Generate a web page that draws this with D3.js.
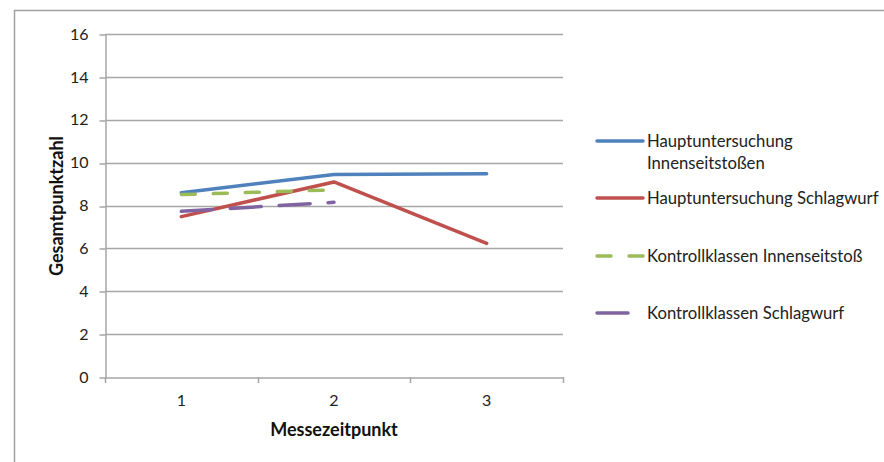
<!DOCTYPE html>
<html>
<head>
<meta charset="utf-8">
<script src="https://cdn.jsdelivr.net/npm/d3@7/dist/d3.min.js"></script>
<style>
  html, body { margin: 0; padding: 0; background: #fff; }
  svg { display: block; font-family: "Lato", "Open Sans", sans-serif; }
</style>
</head>
<body>
<svg id="chart" width="884" height="462"></svg>
<script>
// Messzeitpunkte und Messwerte (Gesamtpunktzahl)
const timepoints = [1, 2, 3];
const yTicks = [0, 2, 4, 6, 8, 10, 12, 14, 16];

const hauptInnenseit = [8.59, 9.45, 9.48];
const hauptSchlag = [7.48, 9.1, 6.23];
const kontrollInnenseit = [8.51, 8.73];
const kontrollSchlag = [7.73, 8.15];

const seriesNames = [
  ["Hauptuntersuchung", "Innenseitstoßen"],
  ["Hauptuntersuchung Schlagwurf"],
  ["Kontrollklassen Innenseitstoß"],
  ["Kontrollklassen Schlagwurf"]
];
const seriesValues = [hauptInnenseit, hauptSchlag, kontrollInnenseit, kontrollSchlag];
const seriesColors = ["#4F81BD", "#C0504D", "#9BBB59", "#8064A2"];
const seriesDash = [null, null, "14,18", "31,18"];

const svg = d3.select("#chart");
const gridColor = "#a6a6a6";

// outer chart frame (runs past the right and bottom edge)
svg.append("path")
  .attr("d", "M14.5,462 V10.5 H884")
  .attr("fill", "none")
  .attr("stroke", "#a0a0a0")
  .attr("stroke-width", 1.5);

const plot = { left: 105, right: 563, top: 34, bottom: 377 };

const x = d3.scaleBand().domain(timepoints).range([plot.left, plot.right]);
const y = d3.scaleLinear().domain([0, 16]).range([plot.bottom, plot.top]);

// horizontal gridlines
svg.append("g")
  .selectAll("line")
  .data(yTicks.filter(t => t > 0))
  .join("line")
  .attr("x1", plot.left)
  .attr("x2", plot.right)
  .attr("y1", d => Math.round(y(d)) + 0.5)
  .attr("y2", d => Math.round(y(d)) + 0.5)
  .attr("stroke", gridColor)
  .attr("stroke-width", 1.5);

// y axis
const yAxis = svg.append("g")
  .attr("transform", `translate(${plot.left + 0.5},0)`)
  .call(d3.axisLeft(y).tickValues(yTicks).tickSizeInner(6).tickSizeOuter(0).tickPadding(11));
yAxis.select(".domain").attr("stroke", gridColor).attr("stroke-width", 1.5);
yAxis.selectAll(".tick line").attr("stroke", gridColor).attr("stroke-width", 1.5)
  .attr("transform", d => `translate(0,${Math.round(y(d)) + 0.5 - y(d)})`);
yAxis.selectAll(".tick text").attr("font-size", 16).attr("fill", "#222")
  .attr("font-family", "Lato, sans-serif");

// x axis
const xAxis = svg.append("g")
  .attr("transform", `translate(0,${Math.round(plot.bottom) + 0.5})`)
  .call(d3.axisBottom(x).tickSize(0).tickPadding(17));
xAxis.select(".domain").attr("stroke", gridColor).attr("stroke-width", 1.5);
xAxis.selectAll(".tick text").attr("font-size", 16).attr("fill", "#222")
  .attr("font-family", "Lato, sans-serif");

// category boundary tick marks
const bounds = timepoints.map(t => x(t)).concat([x(timepoints[timepoints.length - 1]) + x.bandwidth()]);
svg.append("g")
  .selectAll("line")
  .data(bounds)
  .join("line")
  .attr("x1", d => Math.round(d) + 0.5)
  .attr("x2", d => Math.round(d) + 0.5)
  .attr("y1", plot.bottom)
  .attr("y2", plot.bottom + 6)
  .attr("stroke", gridColor)
  .attr("stroke-width", 1.5);

// axis titles
svg.append("text")
  .attr("x", x(2) + x.bandwidth() / 2)
  .attr("y", 436)
  .attr("text-anchor", "middle")
  .attr("font-size", 18)
  .attr("font-weight", "bold")
  .attr("fill", "#111")
  .text("Messezeitpunkt");

svg.append("text")
  .attr("transform", "translate(63,206) rotate(-90)")
  .attr("text-anchor", "middle")
  .attr("font-size", 18)
  .attr("font-weight", "bold")
  .attr("fill", "#111")
  .text("Gesamtpunktzahl");

// series lines
const line = d3.line()
  .x((d, i) => x(timepoints[i]) + x.bandwidth() / 2)
  .y(d => y(d));

svg.append("g")
  .selectAll("path")
  .data(seriesValues)
  .join("path")
  .attr("d", d => line(d))
  .attr("fill", "none")
  .attr("stroke", (d, i) => seriesColors[i])
  .attr("stroke-width", 3.5)
  .attr("stroke-linecap", "round")
  .attr("stroke-linejoin", "round")
  .attr("stroke-dasharray", (d, i) => seriesDash[i]);

// legend
const legendY = [141, 198, 256, 313];
const legend = svg.append("g");
seriesNames.forEach((name, i) => {
  legend.append("line")
    .attr("x1", 597).attr("x2", 643)
    .attr("y1", legendY[i]).attr("y2", legendY[i])
    .attr("stroke", seriesColors[i])
    .attr("stroke-width", 3.5)
    .attr("stroke-linecap", "round")
    .attr("stroke-dasharray", seriesDash[i]);
  const t = legend.append("text")
    .attr("x", 647)
    .attr("y", legendY[i])
    .attr("font-size", 16.7)
    .attr("fill", "#222");
  name.forEach((part, k) => {
    t.append("tspan").attr("x", 647).attr("dy", k === 0 ? "0.35em" : 22).text(part);
  });
});
</script>
</body>
</html>
